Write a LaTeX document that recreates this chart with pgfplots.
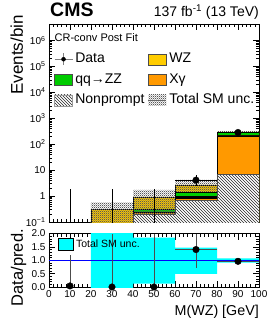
\documentclass[border=0pt]{standalone}
\usepackage{pgfplots}
\pgfplotsset{compat=1.18}
\usepackage{fontspec}
\setmainfont{Liberation Sans}
\usetikzlibrary{patterns}
\pgfdeclarepatternformonly{checker}{\pgfqpoint{0pt}{0pt}}{\pgfqpoint{2.2pt}{2.2pt}}{\pgfqpoint{2.2pt}{2.2pt}}{%
  \pgfpathrectangle{\pgfqpoint{0pt}{0pt}}{\pgfqpoint{1.1pt}{1.1pt}}%
  \pgfpathrectangle{\pgfqpoint{1.1pt}{1.1pt}}{\pgfqpoint{1.1pt}{1.1pt}}%
  \pgfusepath{fill}}
\definecolor{wzc}{HTML}{FFCC00}
\definecolor{zzc}{HTML}{00CC00}
\definecolor{xgc}{HTML}{FF9900}
\definecolor{uncc}{HTML}{00FFFF}
\begin{document}
\begin{tikzpicture}
\useasboundingbox (-49pt,-105pt) rectangle (221pt,222pt);
\pgfplotsset{
  rootstyle/.style={
    scale only axis, width=210pt,
    xmin=0, xmax=100,
    tick align=inside, tick pos=both,
    major tick length=6pt, minor tick length=3pt,
    every tick/.style={black, line width=0.4pt},
    axis line style={black, line width=0.5pt},
    xtick={0,10,...,100}, minor x tick num=4,
    tick label style={font=\fontsize{10}{10}\selectfont},
    /pgf/number format/assume math mode=true,
  }
}
\begin{axis}[rootstyle,
  name=top, at={(0,0)}, anchor=south west, height=198pt,
  ymode=log, ymin=0.1, ymax=4.3e6,
  xticklabels={},
  ytick={0.1,1,10,100,1000,10000,100000,1000000},
  yticklabels={10\textsuperscript{−1},1,10,10\textsuperscript{2},10\textsuperscript{3},10\textsuperscript{4},10\textsuperscript{5},10\textsuperscript{6}},
  legend columns=2,
  legend cell align=left,
  legend style={at={(axis description cs:0.024,0.875)}, anchor=north west, draw=none, fill=none,
    font=\fontsize{14}{14}\selectfont, inner sep=0pt, row sep=0pt,
    nodes={inner xsep=2.5pt, inner ysep=3.8pt, text height=10pt, text depth=3pt},
    /tikz/every odd column/.append style={column sep=0pt},
    /tikz/every even column/.append style={column sep=1pt}},
]
% WZ (cumulative total)
\addplot[fill=wzc, draw=black, line width=0.4pt, forget plot] coordinates {
 (0,0.001) (0,0.001) (20,0.001) (20,0.30) (40,0.30) (40,0.94) (60,0.94) (60,2.7) (80,2.7) (80,300) (100,300) (100,0.001)} -- cycle;
% qq->ZZ cumulative
\addplot[fill=zzc, draw=black, line width=0.4pt, forget plot] coordinates {
 (0,0.001) (40,0.001) (40,0.32) (60,0.32) (60,1.39) (80,1.39) (80,290) (100,290) (100,0.001)} -- cycle;
% other (black)
\addplot[fill=black, draw=black, line width=0.4pt, forget plot] coordinates {
 (0,0.001) (40,0.001) (40,0.235) (60,0.235) (60,0.97) (80,0.97) (80,213) (100,213) (100,0.001)} -- cycle;
% X gamma cumulative
\addplot[fill=xgc, draw=black, line width=0.4pt, forget plot] coordinates {
 (0,0.001) (40,0.001) (40,0.232) (60,0.232) (60,0.81) (80,0.81) (80,207) (100,207) (100,0.001)} -- cycle;
% Nonprompt
\addplot[fill=white, draw=none, forget plot] coordinates {
 (0,0.001) (40,0.001) (40,0.2) (60,0.2) (60,0.68) (80,0.68) (80,7.0) (100,7.0) (100,0.001)} -- cycle;
\addplot[pattern=north west lines, pattern color=black!85, draw=black!70, line width=0.4pt, forget plot] coordinates {
 (0,0.001) (40,0.001) (40,0.2) (60,0.2) (60,0.68) (80,0.68) (80,7.0) (100,7.0) (100,0.001)} -- cycle;
% total SM uncertainty band
\addplot[pattern=checker, pattern color=black!65, draw=none, forget plot] coordinates {
 (20,0.05) (20,0.57) (40,0.57) (40,1.74) (60,1.74) (60,4.2) (80,4.2) (80,318) (100,318)
 (100,272) (80,272) (80,1.45) (60,1.45) (60,0.2) (40,0.2) (40,0.05)} -- cycle;
% data with zero counts: upper error only
\addplot[black, line width=0.5pt, unbounded coords=jump, forget plot] coordinates {
 (10,0.001) (10,1.86) (10,nan) (30,0.001) (30,1.86) (30,nan) (50,0.001) (50,1.86)};
% data points
\addplot[black, only marks, mark=*, mark size=3.3pt, forget plot,
  error bars/.cd, y dir=both, y explicit, x dir=both, x explicit,
  error bar style={black, line width=0.5pt}, error mark=none]
 coordinates {(70,4.1) += (10,2.3) -= (10,1.7) (90,282) +- (10,17)};
% legend
\addlegendimage{legend image code/.code={\draw[black!50, line width=0.6pt] (0pt,0pt)--(18pt,0pt) (9pt,-6pt)--(9pt,6pt); \fill[black] (9pt,0pt) circle (2pt);}}
\addlegendentry{Data}
\addlegendimage{legend image code/.code={\draw[fill=wzc, draw=black!70, line width=0.4pt] (0pt,-5.5pt) rectangle (18pt,5.5pt);}}
\addlegendentry{WZ}
\addlegendimage{legend image code/.code={\draw[fill=zzc, draw=black!70, line width=0.4pt] (0pt,-5.5pt) rectangle (18pt,5.5pt);}}
\addlegendentry{qq→ZZ}
\addlegendimage{legend image code/.code={\draw[fill=xgc, draw=black!70, line width=0.4pt] (0pt,-5.5pt) rectangle (18pt,5.5pt);}}
\addlegendentry{Xγ}
\addlegendimage{legend image code/.code={\fill[white] (0pt,-5.5pt) rectangle (18pt,5.5pt); \draw[pattern=north west lines, pattern color=black!85, draw=black!40, line width=0.4pt] (0pt,-5.5pt) rectangle (18pt,5.5pt);}}
\addlegendentry{Nonprompt}
\addlegendimage{legend image code/.code={\draw[pattern=checker, pattern color=black!65, draw=none] (0pt,-5.5pt) rectangle (18pt,5.5pt); \draw[black!60, line width=0.8pt] (0pt,0pt)--(18pt,0pt);}}
\addlegendentry{Total SM unc.}
\end{axis}

\begin{axis}[rootstyle,
  name=ratio, at={(0,-11.5pt)}, anchor=north west, height=53.5pt,
  ymin=0, ymax=2,
  ytick={0,0.5,1,1.5,2}, minor y tick num=4,
  yticklabel style={/pgf/number format/.cd, fixed, fixed zerofill, precision=1, assume math mode=true},
  clip mode=individual,
  legend style={at={(axis description cs:0.043,0.93)}, anchor=north west, draw=none, fill=none,
    font=\fontsize{10.5}{10.5}\selectfont, inner sep=0pt,
    nodes={inner xsep=2.5pt, inner ysep=2pt}},
]
\addplot[fill=uncc, draw=none, forget plot] coordinates {
 (20,-0.1) (20,2.1) (40,2.1) (40,1.85) (60,1.85) (60,1.47) (80,1.47) (80,1.07) (100,1.07)
 (100,0.91) (80,0.91) (80,0.49) (60,0.49) (60,0.13) (40,0.13) (40,-0.1)} -- cycle;
\addplot[color=blue, line width=1.2pt, forget plot] coordinates {(0,1) (100,1)};
\addplot[black, only marks, mark=*, mark size=3.3pt, forget plot,
  error bars/.cd, y dir=both, y explicit, x dir=both, x explicit,
  error bar style={black!70, line width=0.5pt}, error mark=none]
 coordinates {(10,0.04) += (0,1.14) -= (0,0.04)
              (30,0) += (0,2) -= (0,0)
              (50,0) += (0,2) -= (0,0)
              (70,1.40) += (10,0.6) -= (10,0.68)
              (90,0.96) +- (10,0.05)};
\addlegendimage{legend image code/.code={\draw[fill=uncc, draw=black, line width=0.4pt] (0pt,-6pt) rectangle (15pt,6pt);}}
\addlegendentry{Total SM unc.}
\end{axis}

% titles and axis labels
\node[anchor=base west, font=\bfseries\fontsize{19.5}{19.5}\selectfont, inner sep=0pt] at (1pt,205pt) {CMS};
\node[anchor=base east, font=\fontsize{14}{14}\selectfont, inner sep=0pt] at (210pt,205pt) {137 fb\textsuperscript{-1} (13 TeV)};
\node[anchor=base west, font=\fontsize{11}{11}\selectfont, inner sep=0pt] at (5.5pt,180.5pt) {CR-conv Post Fit};
\node[rotate=90, anchor=base east, font=\fontsize{17}{17}\selectfont, inner sep=0pt] at (-26pt,207pt) {Events/bin};
\node[rotate=90, anchor=base east, font=\fontsize{16.5}{16.5}\selectfont, inner sep=0pt] at (-26pt,-7pt) {Data/pred.};
\node[anchor=base east, font=\fontsize{14.3}{14.3}\selectfont, inner sep=0pt] at (210pt,-93pt) {M(WZ) [GeV]};
\end{tikzpicture}
\end{document}
